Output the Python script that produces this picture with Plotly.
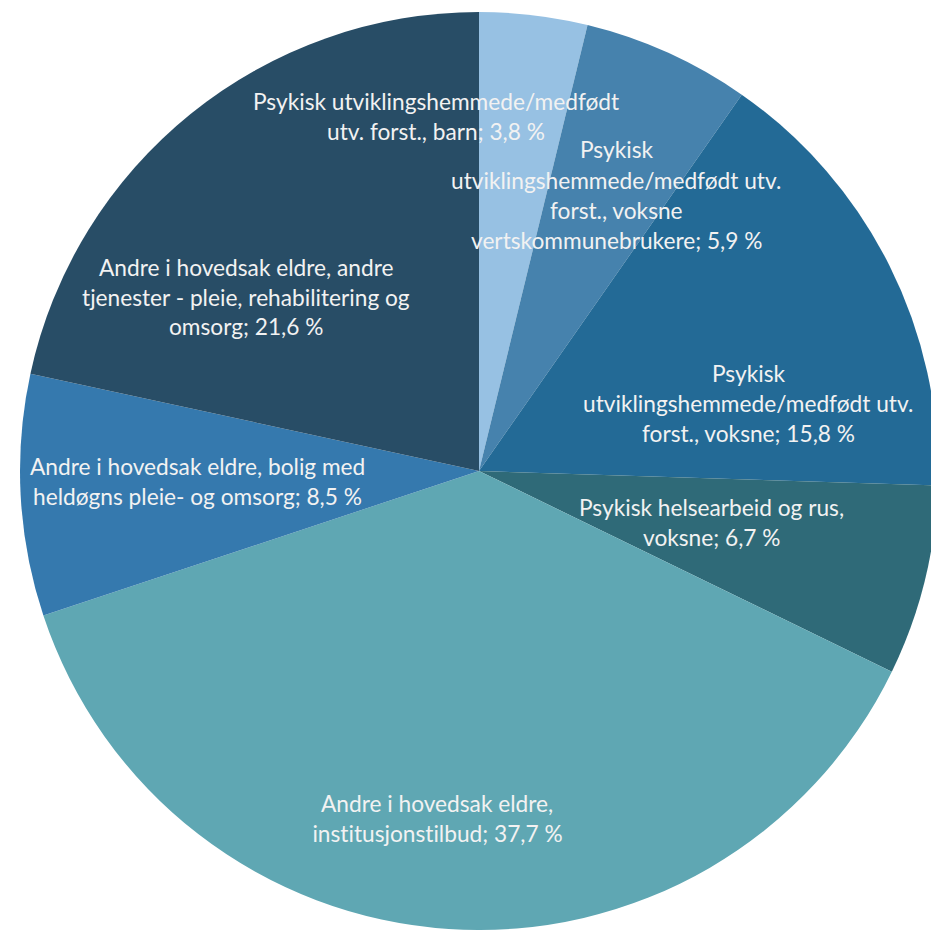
import plotly.graph_objects as go

# Share of expenses per service group (percent)
labels = [
    "Psykisk utviklingshemmede/medfødt<br>utv. forst., barn",
    "Psykisk<br>utviklingshemmede/medfødt utv.<br>forst., voksne<br>vertskommunebrukere",
    "Psykisk<br>utviklingshemmede/medfødt utv.<br>forst., voksne",
    "Psykisk helsearbeid og rus,<br>voksne",
    "Andre i hovedsak eldre,<br>institusjonstilbud",
    "Andre i hovedsak eldre, bolig med<br>heldøgns pleie- og omsorg",
    "Andre i hovedsak eldre, andre<br>tjenester - pleie, rehabilitering og<br>omsorg",
]
values = [3.8, 5.9, 15.8, 6.7, 37.7, 8.5, 21.6]
colors = ["#97C1E3", "#4682AD", "#236A96", "#2F6A78", "#5FA7B3", "#3579AE", "#284D66"]

W, H = 940, 930
CX, CY, R = 479, 471, 459  # pie centre and radius in pixels

# label anchor (centre of the text block, pixels) for each slice
label_pos = [(436, 116), (616, 195), (748, 403), (711, 522), (437, 818), (197, 481), (246, 297)]
LINE_H = 30

fig = go.Figure(go.Pie(
    labels=labels,
    values=values,
    sort=False,
    direction="clockwise",
    rotation=0,
    marker=dict(colors=colors, line=dict(width=0)),
    textinfo="none",
    hoverinfo="label+percent",
    domain=dict(x=[(CX - R) / W, (CX + R) / W], y=[(H - CY - R) / H, (H - CY + R) / H]),
    showlegend=False,
))


def fmt(v):
    return f"{v:.1f}".replace(".", ",") + " %"


annotations = []
for lab, val, (px, py) in zip(labels, values, label_pos):
    lines = lab.split("<br>")
    lines[-1] = f"{lines[-1]}; {fmt(val)}"
    n = len(lines)
    for i, line in enumerate(lines):
        ly = py + (i - (n - 1) / 2) * LINE_H
        annotations.append(dict(
            x=px / W, y=1 - ly / H, xref="paper", yref="paper",
            text=line, showarrow=False, xanchor="center", yanchor="middle",
            font=dict(family="Lato", size=22.7, color="#F2F2F2"),
        ))

fig.update_layout(
    width=W, height=H, autosize=False,
    margin=dict(l=0, r=0, t=0, b=0),
    paper_bgcolor="white", plot_bgcolor="white",
    annotations=annotations,
)

post = (
    "document.body.style.margin='0';"
    "document.body.style.overflow='hidden';"
    "document.querySelectorAll('text').forEach(function(t){t.style.fontVariantLigatures='none';});"
)
fig.write_html("out.html", post_script=post)
